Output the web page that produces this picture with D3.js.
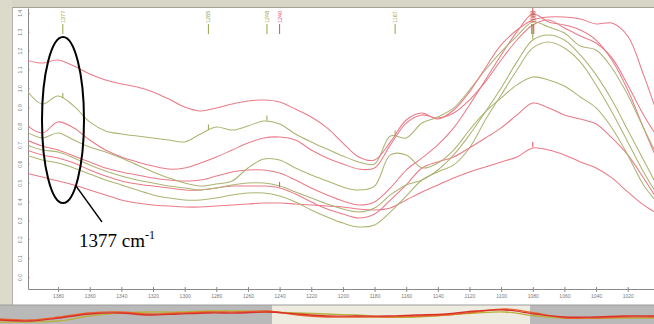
<!DOCTYPE html>
<html lang="en">
<head>
<meta charset="UTF-8">
<title>Spectra 1377 cm-1</title>
<style>
  html, body { margin: 0; padding: 0; background: #fff; }
  svg { display: block; }
  .axis text { font-family: "Liberation Sans", Arial, sans-serif; font-size: 5px; fill: #7a7a7a; }
  .axis path, .axis line { stroke: #8a8a8a; }
</style>
</head>
<body>
<svg id="svg" width="654" height="324"></svg>
<script src="https://d3js.org/d3.v7.min.js"></script>
<script>
// wavenumbers (cm-1) shared by every spectrum
const wavenumbers = [1400,1390,1380,1370,1360,1350,1340,1330,1320,1310,1300,1290,1280,1270,1260,1250,1240,1230,1220,1210,1200,1190,1180,1170,1160,1150,1140,1130,1120,1110,1100,1090,1080,1070,1060,1050,1040,1030,1020,1010,1000];

// absorbance
const red1 = [1.150,1.134,1.150,1.118,1.076,1.044,1.023,1.007,0.981,0.943,0.901,0.880,0.896,0.917,0.933,0.938,0.928,0.890,0.848,0.790,0.710,0.636,0.620,0.716,0.832,0.869,0.837,0.885,0.981,1.108,1.230,1.309,1.362,1.378,1.378,1.367,1.341,1.346,1.277,1.071,0.832];
const red2 = [0.806,0.763,0.822,0.790,0.726,0.673,0.636,0.610,0.588,0.572,0.578,0.604,0.636,0.673,0.710,0.737,0.742,0.726,0.673,0.631,0.599,0.572,0.578,0.700,0.816,0.859,0.843,0.869,0.938,1.034,1.150,1.256,1.336,1.362,1.320,1.277,1.240,1.161,1.018,0.859,0.726];
const red3 = [0.726,0.694,0.673,0.641,0.610,0.578,0.557,0.541,0.525,0.514,0.509,0.514,0.535,0.557,0.567,0.567,0.551,0.514,0.472,0.435,0.403,0.382,0.398,0.472,0.567,0.631,0.700,0.790,0.912,1.044,1.177,1.299,1.394,1.352,1.336,1.309,1.256,1.150,0.991,0.790,0.594];
const red4 = [0.673,0.647,0.631,0.604,0.567,0.535,0.509,0.493,0.482,0.472,0.461,0.461,0.472,0.482,0.482,0.482,0.472,0.440,0.398,0.360,0.334,0.313,0.334,0.408,0.488,0.578,0.610,0.636,0.684,0.737,0.790,0.859,0.922,0.896,0.859,0.837,0.811,0.737,0.647,0.525,0.392];
const red5 = [0.551,0.530,0.509,0.488,0.461,0.435,0.408,0.392,0.382,0.376,0.371,0.371,0.376,0.382,0.387,0.392,0.392,0.387,0.382,0.376,0.371,0.360,0.355,0.366,0.408,0.451,0.488,0.525,0.557,0.583,0.610,0.636,0.684,0.673,0.647,0.610,0.578,0.525,0.451,0.382,0.329];
const olive1 = [0.991,0.917,0.959,0.906,0.822,0.774,0.758,0.747,0.737,0.726,0.716,0.758,0.795,0.779,0.800,0.827,0.811,0.758,0.716,0.678,0.641,0.610,0.599,0.747,0.737,0.816,0.848,0.896,0.991,1.097,1.193,1.277,1.352,1.325,1.293,1.224,1.203,1.108,0.965,0.790,0.620];
const olive2 = [0.769,0.737,0.763,0.726,0.689,0.663,0.631,0.594,0.557,0.525,0.498,0.482,0.493,0.509,0.578,0.625,0.620,0.578,0.541,0.509,0.477,0.461,0.482,0.647,0.647,0.578,0.604,0.673,0.779,0.875,0.949,1.018,1.060,1.044,1.012,0.954,0.896,0.790,0.647,0.488,0.382];
const olive3 = [0.700,0.673,0.663,0.631,0.594,0.562,0.535,0.514,0.498,0.482,0.472,0.461,0.472,0.488,0.498,0.498,0.482,0.451,0.419,0.387,0.360,0.345,0.366,0.435,0.488,0.514,0.567,0.647,0.753,0.875,1.002,1.140,1.256,1.283,1.256,1.177,1.071,0.938,0.779,0.620,0.461];
const olive4 = [0.647,0.620,0.604,0.578,0.546,0.514,0.488,0.461,0.435,0.419,0.408,0.408,0.419,0.435,0.445,0.445,0.429,0.398,0.355,0.318,0.286,0.265,0.276,0.345,0.429,0.514,0.557,0.594,0.684,0.832,0.965,1.097,1.214,1.246,1.214,1.140,1.018,0.875,0.716,0.557,0.419];

// axis ticks
const xTicks = [1380,1360,1340,1320,1300,1280,1260,1240,1220,1200,1180,1160,1140,1120,1100,1080,1060,1040,1020];
const yTicks = [0,0.1,0.2,0.3,0.4,0.5,0.6,0.7,0.8,0.9,1.0,1.1,1.2,1.3,1.4];

// peak picks
const peakWavenumbers = [1377,1285,1248,1240,1167,1080,1080,1080];
const peakLabels = ["1377","1285","1248","1240","1167","1080","1080","1080"];
const peakSeries = ["olive1","olive1","olive1","red4","olive1","red3","olive3","red5"];

// overview strip (compressed full range)
const overviewRed = [2,1,4,8,9,7,8,9,9,10,8,6,6,6,7,8,11,12,8,5,5,6,6];
const overviewOrange = [3,2,5,9,10,8,9,10,10,11,7,5,5,5,6,7,10,13,9,4,4,5,5];
const overviewOlive = [0,0,1,6,9,10,10,11,11,10,9,8,7,5,5,7,9,10,6,4,4,4,4];
const overviewWindow = [9.15, 17.83];

const RED = "#ea7b88", OLIVE = "#adb473";

const spectra = [
  { name: "red5", color: RED, values: red5 },
  { name: "olive4", color: OLIVE, values: olive4 },
  { name: "red4", color: RED, values: red4 },
  { name: "olive3", color: OLIVE, values: olive3 },
  { name: "red3", color: RED, values: red3 },
  { name: "olive2", color: OLIVE, values: olive2 },
  { name: "red2", color: RED, values: red2 },
  { name: "olive1", color: OLIVE, values: olive1 },
  { name: "red1", color: RED, values: red1 }
];
const byName = {};
spectra.forEach(s => byName[s.name] = s);

const svg = d3.select("#svg");
const W = 654, H = 324;
const plot = { left: 28, right: 654, top: 8, bottom: 289 };

// window frame
svg.append("rect").attr("x", 0).attr("y", 0).attr("width", W).attr("height", H).attr("fill", "#fff");
svg.append("rect").attr("x", 0).attr("y", 0).attr("width", W).attr("height", 7).attr("fill", "#d7d5c6");
svg.append("line").attr("x1", 0).attr("x2", W).attr("y1", 7.5).attr("y2", 7.5).attr("stroke", "#a3a294");
svg.append("rect").attr("x", 0).attr("y", 0).attr("width", 12).attr("height", 306).attr("fill", "#dcdacb");
svg.append("line").attr("x1", 12.5).attr("x2", 12.5).attr("y1", 7).attr("y2", 306).attr("stroke", "#b3b2a4");

const x = d3.scaleLinear().domain([1399, 1003.4]).range([plot.left, plot.right]);
const y = d3.scaleLinear().domain([-0.0636, 1.4257]).range([plot.bottom, plot.top]);

svg.append("clipPath").attr("id", "clip")
  .append("rect").attr("x", plot.left).attr("y", plot.top)
  .attr("width", plot.right - plot.left).attr("height", plot.bottom - plot.top);

// axes
const xAxis = svg.append("g").attr("class", "axis")
  .attr("transform", `translate(0,${plot.bottom})`)
  .call(d3.axisBottom(x).tickValues(xTicks).tickSize(3).tickSizeOuter(0).tickFormat(d3.format("d")));
xAxis.selectAll(".tick line").attr("y1", -2);
xAxis.selectAll("text").attr("y", 5);

const yAxis = svg.append("g").attr("class", "axis")
  .attr("transform", `translate(${plot.left},0)`)
  .call(d3.axisLeft(y).tickValues(yTicks).tickSize(3).tickSizeOuter(0).tickFormat(d3.format(".1f")));
yAxis.selectAll(".tick line").attr("x2", 1.5);
yAxis.selectAll("text")
  .attr("x", 0).attr("dy", 0)
  .attr("text-anchor", "middle")
  .attr("transform", "translate(-6,0) rotate(-90)");

// spectra
const line = d3.line()
  .x((d, i) => x(wavenumbers[i]))
  .y(d => y(d))
  .curve(d3.curveCatmullRom.alpha(0.5));

const g = svg.append("g").attr("clip-path", "url(#clip)");
g.selectAll("path.spec")
  .data(spectra)
  .join("path")
  .attr("class", "spec")
  .attr("d", d => line(d.values))
  .attr("fill", "none")
  .attr("stroke", d => d.color)
  .attr("stroke-width", 1.05);

// peak picks: tick on the curve + label at the top
const peaks = peakWavenumbers.map((wn, i) => {
  const s = byName[peakSeries[i]];
  const interp = d3.scaleLinear().domain(wavenumbers).range(s.values);
  return { wn, label: peakLabels[i], color: s.color === RED ? "#e24a5a" : "#98a04c", v: interp(wn), k: i };
});

g.selectAll("line.pk")
  .data(peaks)
  .join("line")
  .attr("class", "pk")
  .attr("x1", d => x(d.wn)).attr("x2", d => x(d.wn))
  .attr("y1", d => y(d.v) - 1).attr("y2", d => y(d.v) - 6)
  .attr("stroke", d => d.color).attr("stroke-width", 1);

const peakTop = svg.append("g");
const nudge = d => (d.wn === 1080 ? d.k - 6 : 0);
peakTop.selectAll("line")
  .data(peaks)
  .join("line")
  .attr("x1", d => x(d.wn) + nudge(d))
  .attr("x2", d => x(d.wn) + nudge(d))
  .attr("y1", 24).attr("y2", 34)
  .attr("stroke", d => d.color).attr("stroke-width", 1);
peakTop.selectAll("text")
  .data(peaks)
  .join("text")
  .attr("transform", d => `translate(${x(d.wn) + 2 + nudge(d)},23) rotate(-90)`)
  .attr("font-family", "Liberation Sans, Arial, sans-serif")
  .attr("font-size", 5.5)
  .attr("fill", d => d.color)
  .text(d => d.label);

// annotation: ellipse around 1377 band
svg.append("ellipse")
  .attr("cx", 63).attr("cy", 120).attr("rx", 21).attr("ry", 83)
  .attr("fill", "none").attr("stroke", "#000").attr("stroke-width", 2);
svg.append("line")
  .attr("x1", 76).attr("y1", 186).attr("x2", 102).attr("y2", 222)
  .attr("stroke", "#000").attr("stroke-width", 1.3);
const lab = svg.append("text")
  .attr("x", 79).attr("y", 247)
  .attr("font-family", "Liberation Serif, Times New Roman, serif")
  .attr("font-size", 19)
  .attr("fill", "#000");
lab.append("tspan").text("1377 cm");
lab.append("tspan").attr("font-size", 12).attr("dy", -8).text("-1");

// overview strip
const ox = d3.scaleLinear().domain([0, overviewRed.length - 1]).range([0, W]);
const oy = d3.scaleLinear().domain([0, 16]).range([322, 306]);
svg.append("rect").attr("x", 0).attr("y", 305).attr("width", W).attr("height", 19).attr("fill", "#eeebe0");
svg.append("rect").attr("x", 0).attr("y", 305).attr("width", ox(overviewWindow[0])).attr("height", 19).attr("fill", "#b9b9b9");
svg.append("rect").attr("x", ox(overviewWindow[1])).attr("y", 305).attr("width", W - ox(overviewWindow[1])).attr("height", 19).attr("fill", "#b9b9b9");
svg.append("line").attr("x1", 0).attr("x2", W).attr("y1", 305).attr("y2", 305).attr("stroke", "#9c9c9c");

const oline = d3.line().x((d, i) => ox(i)).y(d => oy(d)).curve(d3.curveCatmullRom);
[[overviewOlive, "#b9b040"], [overviewOrange, "#e8632a"], [overviewRed, "#d8322a"]].forEach(([vals, c]) => {
  svg.append("path").attr("d", oline(vals)).attr("fill", "none").attr("stroke", c).attr("stroke-width", 1.3);
});
</script>
</body>
</html>
